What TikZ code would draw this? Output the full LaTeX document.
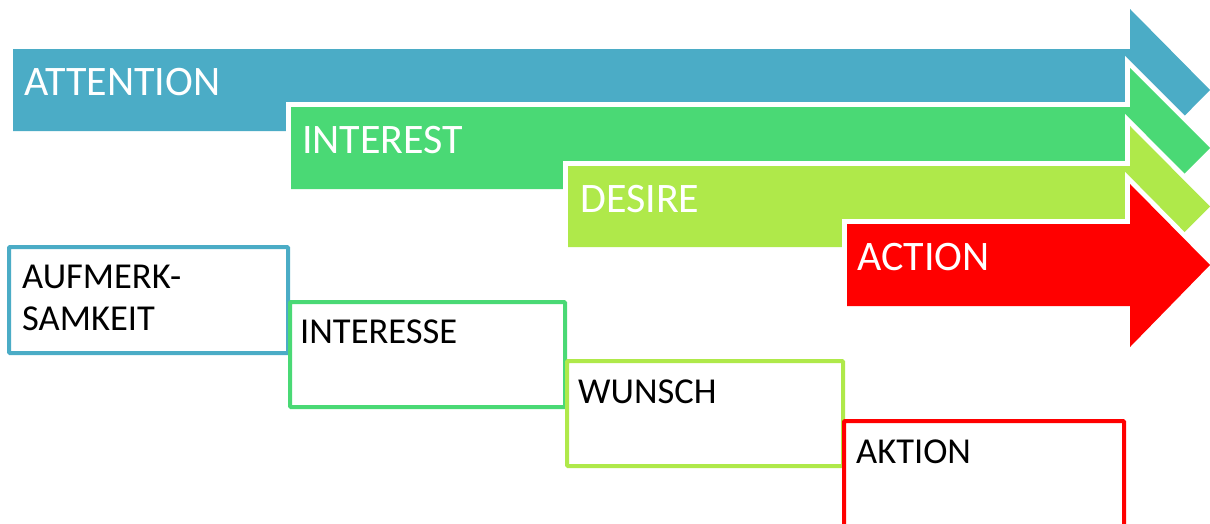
\documentclass[tikz,border=0pt]{standalone}
\usepackage{fontspec}
\setmainfont{Carlito}
\definecolor{cBlue}{RGB}{75,172,198}
\definecolor{cGreen}{RGB}{74,217,117}
\definecolor{cLime}{RGB}{175,233,74}
\definecolor{cRed}{RGB}{255,0,0}
\begin{document}
\begin{tikzpicture}[x=1pt,y=-1pt,
  bigarrow/.style={fill=#1, preaction={draw=white, line width=10pt, line join=miter}},
  arrowlabel/.style={text=white, font=\fontsize{42}{50}\selectfont, inner sep=0pt, anchor=base west},
  stagebox/.style={draw=#1, fill=white, line width=4pt, rounded corners=1pt},
  boxlabel/.style={text=black, font=\fontsize{36.5}{42}\selectfont, inner sep=0pt, anchor=base west}]
\useasboundingbox (0,0) rectangle (1210,523);
% arrows
\path[bigarrow=cBlue] (13,49) -- (1130,49) -- (1130,9) -- (1210,90) -- (1130,171) -- (1130,131) -- (13,131) -- cycle;
\node[arrowlabel] (attention) at (24,95) {ATTENTION};
\path[bigarrow=cGreen] (291,107) -- (1130,107) -- (1130,68) -- (1210,148) -- (1130,228) -- (1130,189) -- (291,189) -- cycle;
\node[arrowlabel] (interest) at (302,153) {INTEREST};
\path[bigarrow=cLime] (568,166) -- (1130,166) -- (1130,126) -- (1210,206.5) -- (1130,287) -- (1130,247) -- (568,247) -- cycle;
\node[arrowlabel] (desire) at (580,212) {DESIRE};
\path[bigarrow=cRed] (847,224) -- (1130,224) -- (1130,184) -- (1210,265) -- (1130,347) -- (1130,306) -- (847,306) -- cycle;
\node[arrowlabel] (action) at (857,270) {ACTION};
% boxes
\draw[stagebox=cBlue] (9,247) rectangle (288,353);
\node[boxlabel] (aufmerkA) at (22,288) {AUFMERK-};
\node[boxlabel] (aufmerkB) at (22,330) {SAMKEIT};
\draw[stagebox=cGreen] (290,302) rectangle (565,407);
\node[boxlabel] (interesse) at (300,343) {INTERESSE};
\draw[stagebox=cLime] (567,361) rectangle (843,466);
\node[boxlabel] (wunsch) at (578,403) {WUNSCH};
\draw[stagebox=cRed] (844,421) rectangle (1124,540);
\node[boxlabel] (aktion) at (856,463) {AKTION};
\end{tikzpicture}
\end{document}
